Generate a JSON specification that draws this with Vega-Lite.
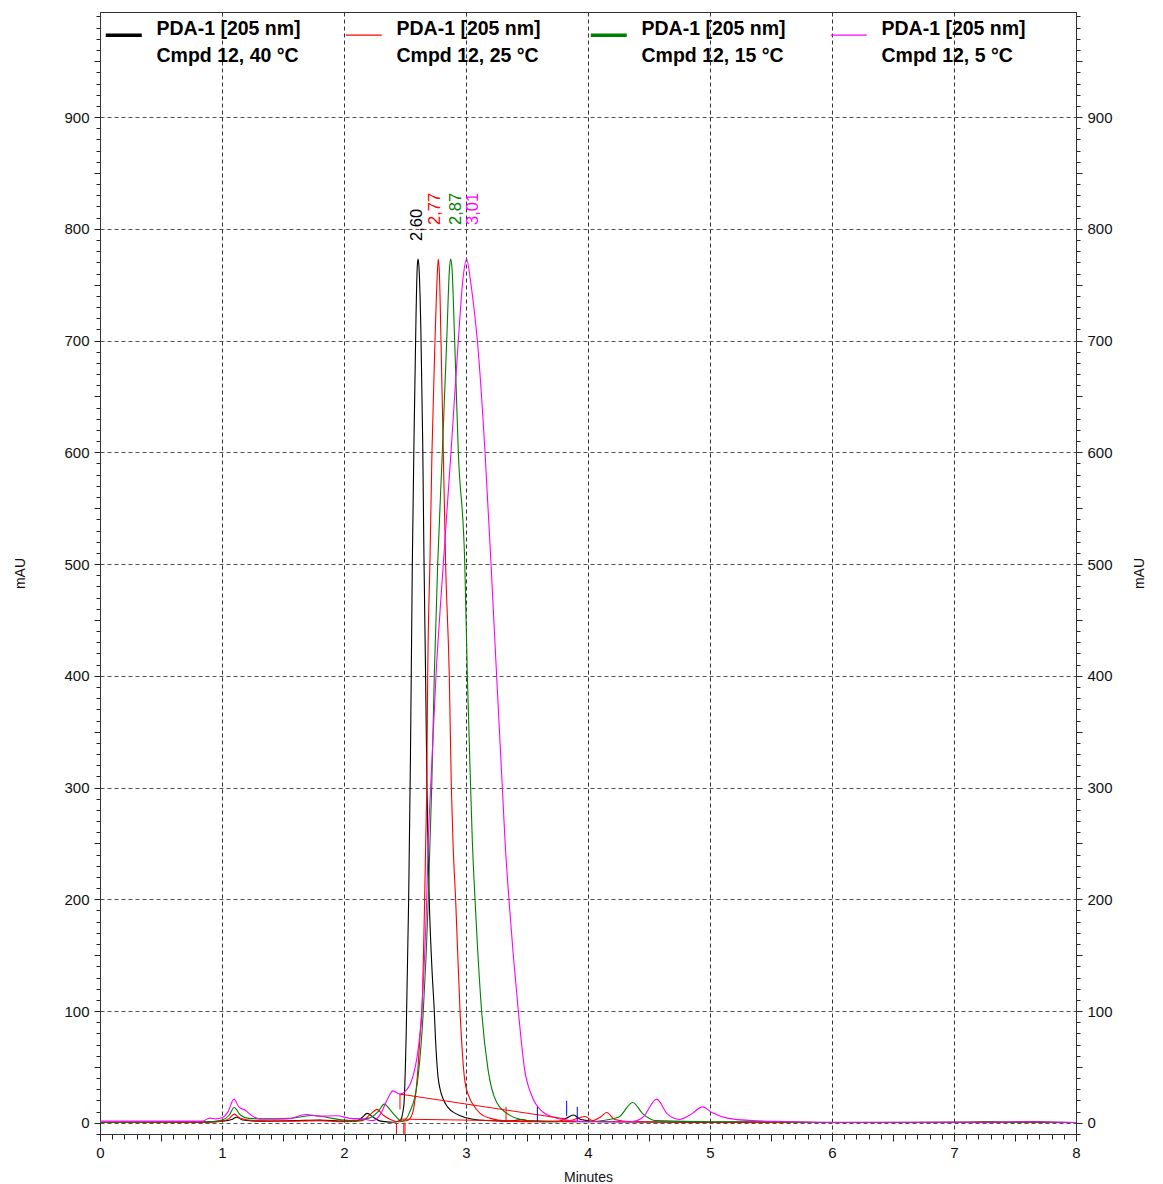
{
  "$schema": "https://vega.github.io/schema/vega-lite/v6.json",
  "width": 976,
  "height": 1122,
  "autosize": {"type": "none"},
  "padding": {"left": 100, "top": 12, "right": 87, "bottom": 50},
  "background": "white",
  "config": {
    "view": {"stroke": "#333333", "strokeWidth": 1},
    "font": "Liberation Sans",
    "axis": {
      "domainColor": "#333333",
      "tickColor": "#222222",
      "labelColor": "#111111",
      "titleColor": "#111111",
      "labelFont": "Liberation Sans",
      "titleFont": "Liberation Sans",
      "labelFontSize": 15,
      "titleFontSize": 14,
      "titleFontWeight": "normal",
      "labelOverlap": false,
      "labelFlush": false,
      "gridColor": "#333333",
      "gridDash": [4, 3],
      "gridWidth": 1
    }
  },
  "datasets": {
    "traces": [
      {"s":"Cmpd 12, 40 °C","t":0,"v":0.5},{"s":"Cmpd 12, 40 °C","t":0.8,"v":0.5},{"s":"Cmpd 12, 40 °C","t":1.0,"v":1.5},{"s":"Cmpd 12, 40 °C","t":1.08,"v":3},{"s":"Cmpd 12, 40 °C","t":1.12,"v":5},{"s":"Cmpd 12, 40 °C","t":1.17,"v":2.5},{"s":"Cmpd 12, 40 °C","t":1.3,"v":1.5},{"s":"Cmpd 12, 40 °C","t":1.6,"v":2},{"s":"Cmpd 12, 40 °C","t":1.8,"v":2.5},{"s":"Cmpd 12, 40 °C","t":2.0,"v":1.5},{"s":"Cmpd 12, 40 °C","t":2.1,"v":1.5},{"s":"Cmpd 12, 40 °C","t":2.15,"v":5},{"s":"Cmpd 12, 40 °C","t":2.19,"v":8.5},{"s":"Cmpd 12, 40 °C","t":2.24,"v":5},{"s":"Cmpd 12, 40 °C","t":2.3,"v":1.5},{"s":"Cmpd 12, 40 °C","t":2.4,"v":0.5},{"s":"Cmpd 12, 40 °C","t":2.46,"v":2},{"s":"Cmpd 12, 40 °C","t":2.49,"v":15},{"s":"Cmpd 12, 40 °C","t":2.51,"v":80},{"s":"Cmpd 12, 40 °C","t":2.53,"v":200},{"s":"Cmpd 12, 40 °C","t":2.545,"v":330},{"s":"Cmpd 12, 40 °C","t":2.56,"v":500},{"s":"Cmpd 12, 40 °C","t":2.575,"v":620},{"s":"Cmpd 12, 40 °C","t":2.59,"v":720},{"s":"Cmpd 12, 40 °C","t":2.6,"v":765},{"s":"Cmpd 12, 40 °C","t":2.607,"v":773},{"s":"Cmpd 12, 40 °C","t":2.615,"v":765},{"s":"Cmpd 12, 40 °C","t":2.63,"v":710},{"s":"Cmpd 12, 40 °C","t":2.645,"v":610},{"s":"Cmpd 12, 40 °C","t":2.655,"v":510},{"s":"Cmpd 12, 40 °C","t":2.67,"v":390},{"s":"Cmpd 12, 40 °C","t":2.68,"v":300},{"s":"Cmpd 12, 40 °C","t":2.69,"v":240},{"s":"Cmpd 12, 40 °C","t":2.7,"v":195},{"s":"Cmpd 12, 40 °C","t":2.72,"v":140},{"s":"Cmpd 12, 40 °C","t":2.74,"v":100},{"s":"Cmpd 12, 40 °C","t":2.75,"v":75},{"s":"Cmpd 12, 40 °C","t":2.77,"v":42},{"s":"Cmpd 12, 40 °C","t":2.79,"v":29},{"s":"Cmpd 12, 40 °C","t":2.81,"v":22},{"s":"Cmpd 12, 40 °C","t":2.85,"v":14},{"s":"Cmpd 12, 40 °C","t":2.92,"v":8},{"s":"Cmpd 12, 40 °C","t":3.0,"v":4.5},{"s":"Cmpd 12, 40 °C","t":3.1,"v":2.5},{"s":"Cmpd 12, 40 °C","t":3.3,"v":1.5},{"s":"Cmpd 12, 40 °C","t":3.4,"v":2},{"s":"Cmpd 12, 40 °C","t":3.45,"v":3},{"s":"Cmpd 12, 40 °C","t":3.52,"v":1.5},{"s":"Cmpd 12, 40 °C","t":3.75,"v":1},{"s":"Cmpd 12, 40 °C","t":3.82,"v":4},{"s":"Cmpd 12, 40 °C","t":3.88,"v":7},{"s":"Cmpd 12, 40 °C","t":3.94,"v":3},{"s":"Cmpd 12, 40 °C","t":4.1,"v":1},{"s":"Cmpd 12, 40 °C","t":5.0,"v":0.5},{"s":"Cmpd 12, 40 °C","t":6.0,"v":0.3},{"s":"Cmpd 12, 40 °C","t":7.5,"v":0.5},{"s":"Cmpd 12, 40 °C","t":7.65,"v":1},{"s":"Cmpd 12, 40 °C","t":7.8,"v":0.5},{"s":"Cmpd 12, 40 °C","t":8,"v":0.3},

      {"s":"Cmpd 12, 25 °C","t":0,"v":0.3},{"s":"Cmpd 12, 25 °C","t":0.9,"v":0.5},{"s":"Cmpd 12, 25 °C","t":1.0,"v":1.5},{"s":"Cmpd 12, 25 °C","t":1.06,"v":4},{"s":"Cmpd 12, 25 °C","t":1.1,"v":7.8},{"s":"Cmpd 12, 25 °C","t":1.15,"v":4},{"s":"Cmpd 12, 25 °C","t":1.25,"v":2},{"s":"Cmpd 12, 25 °C","t":1.5,"v":1.5},{"s":"Cmpd 12, 25 °C","t":1.8,"v":2},{"s":"Cmpd 12, 25 °C","t":2.0,"v":1},{"s":"Cmpd 12, 25 °C","t":2.15,"v":2},{"s":"Cmpd 12, 25 °C","t":2.22,"v":8},{"s":"Cmpd 12, 25 °C","t":2.27,"v":12},{"s":"Cmpd 12, 25 °C","t":2.32,"v":7},{"s":"Cmpd 12, 25 °C","t":2.38,"v":3},{"s":"Cmpd 12, 25 °C","t":2.45,"v":1},{"s":"Cmpd 12, 25 °C","t":2.52,"v":2},{"s":"Cmpd 12, 25 °C","t":2.56,"v":8},{"s":"Cmpd 12, 25 °C","t":2.6,"v":40},{"s":"Cmpd 12, 25 °C","t":2.625,"v":80},{"s":"Cmpd 12, 25 °C","t":2.639,"v":100},{"s":"Cmpd 12, 25 °C","t":2.661,"v":200},{"s":"Cmpd 12, 25 °C","t":2.67,"v":252},{"s":"Cmpd 12, 25 °C","t":2.678,"v":300},{"s":"Cmpd 12, 25 °C","t":2.686,"v":400},{"s":"Cmpd 12, 25 °C","t":2.705,"v":505},{"s":"Cmpd 12, 25 °C","t":2.721,"v":600},{"s":"Cmpd 12, 25 °C","t":2.746,"v":700},{"s":"Cmpd 12, 25 °C","t":2.765,"v":760},{"s":"Cmpd 12, 25 °C","t":2.773,"v":773},{"s":"Cmpd 12, 25 °C","t":2.782,"v":760},{"s":"Cmpd 12, 25 °C","t":2.795,"v":700},{"s":"Cmpd 12, 25 °C","t":2.814,"v":600},{"s":"Cmpd 12, 25 °C","t":2.833,"v":500},{"s":"Cmpd 12, 25 °C","t":2.863,"v":400},{"s":"Cmpd 12, 25 °C","t":2.88,"v":300},{"s":"Cmpd 12, 25 °C","t":2.893,"v":252},{"s":"Cmpd 12, 25 °C","t":2.915,"v":200},{"s":"Cmpd 12, 25 °C","t":2.951,"v":100},{"s":"Cmpd 12, 25 °C","t":2.99,"v":38},{"s":"Cmpd 12, 25 °C","t":3.03,"v":22},{"s":"Cmpd 12, 25 °C","t":3.06,"v":16},{"s":"Cmpd 12, 25 °C","t":3.12,"v":8},{"s":"Cmpd 12, 25 °C","t":3.2,"v":4},{"s":"Cmpd 12, 25 °C","t":3.33,"v":1.6},{"s":"Cmpd 12, 25 °C","t":3.6,"v":1},{"s":"Cmpd 12, 25 °C","t":3.85,"v":2},{"s":"Cmpd 12, 25 °C","t":3.975,"v":5.6},{"s":"Cmpd 12, 25 °C","t":4.04,"v":2},{"s":"Cmpd 12, 25 °C","t":4.1,"v":5},{"s":"Cmpd 12, 25 °C","t":4.153,"v":9.2},{"s":"Cmpd 12, 25 °C","t":4.22,"v":3},{"s":"Cmpd 12, 25 °C","t":4.35,"v":1},{"s":"Cmpd 12, 25 °C","t":5.0,"v":0.5},{"s":"Cmpd 12, 25 °C","t":6.0,"v":0.3},{"s":"Cmpd 12, 25 °C","t":7.1,"v":0.4},{"s":"Cmpd 12, 25 °C","t":7.25,"v":0.9},{"s":"Cmpd 12, 25 °C","t":7.4,"v":0.4},{"s":"Cmpd 12, 25 °C","t":8,"v":0.3},

      {"s":"Cmpd 12, 15 °C","t":0,"v":0.5},{"s":"Cmpd 12, 15 °C","t":0.9,"v":1},{"s":"Cmpd 12, 15 °C","t":1.0,"v":2.5},{"s":"Cmpd 12, 15 °C","t":1.06,"v":7},{"s":"Cmpd 12, 15 °C","t":1.1,"v":13.7},{"s":"Cmpd 12, 15 °C","t":1.15,"v":7},{"s":"Cmpd 12, 15 °C","t":1.22,"v":4},{"s":"Cmpd 12, 15 °C","t":1.35,"v":3.5},{"s":"Cmpd 12, 15 °C","t":1.55,"v":4},{"s":"Cmpd 12, 15 °C","t":1.75,"v":6.6},{"s":"Cmpd 12, 15 °C","t":1.9,"v":4},{"s":"Cmpd 12, 15 °C","t":2.05,"v":2},{"s":"Cmpd 12, 15 °C","t":2.2,"v":4},{"s":"Cmpd 12, 15 °C","t":2.28,"v":10},{"s":"Cmpd 12, 15 °C","t":2.33,"v":16.7},{"s":"Cmpd 12, 15 °C","t":2.39,"v":10},{"s":"Cmpd 12, 15 °C","t":2.45,"v":3},{"s":"Cmpd 12, 15 °C","t":2.48,"v":1.5},{"s":"Cmpd 12, 15 °C","t":2.54,"v":10},{"s":"Cmpd 12, 15 °C","t":2.6,"v":35},{"s":"Cmpd 12, 15 °C","t":2.65,"v":100},{"s":"Cmpd 12, 15 °C","t":2.691,"v":200},{"s":"Cmpd 12, 15 °C","t":2.705,"v":252},{"s":"Cmpd 12, 15 °C","t":2.719,"v":300},{"s":"Cmpd 12, 15 °C","t":2.74,"v":400},{"s":"Cmpd 12, 15 °C","t":2.768,"v":500},{"s":"Cmpd 12, 15 °C","t":2.806,"v":600},{"s":"Cmpd 12, 15 °C","t":2.842,"v":700},{"s":"Cmpd 12, 15 °C","t":2.865,"v":765},{"s":"Cmpd 12, 15 °C","t":2.874,"v":773},{"s":"Cmpd 12, 15 °C","t":2.885,"v":765},{"s":"Cmpd 12, 15 °C","t":2.907,"v":700},{"s":"Cmpd 12, 15 °C","t":2.937,"v":600},{"s":"Cmpd 12, 15 °C","t":2.99,"v":500},{"s":"Cmpd 12, 15 °C","t":3.011,"v":400},{"s":"Cmpd 12, 15 °C","t":3.038,"v":300},{"s":"Cmpd 12, 15 °C","t":3.052,"v":252},{"s":"Cmpd 12, 15 °C","t":3.074,"v":200},{"s":"Cmpd 12, 15 °C","t":3.128,"v":100},{"s":"Cmpd 12, 15 °C","t":3.18,"v":48},{"s":"Cmpd 12, 15 °C","t":3.25,"v":18.6},{"s":"Cmpd 12, 15 °C","t":3.36,"v":6.7},{"s":"Cmpd 12, 15 °C","t":3.45,"v":3},{"s":"Cmpd 12, 15 °C","t":3.6,"v":1.5},{"s":"Cmpd 12, 15 °C","t":4.0,"v":1},{"s":"Cmpd 12, 15 °C","t":4.25,"v":5},{"s":"Cmpd 12, 15 °C","t":4.366,"v":18.2},{"s":"Cmpd 12, 15 °C","t":4.45,"v":8},{"s":"Cmpd 12, 15 °C","t":4.55,"v":2},{"s":"Cmpd 12, 15 °C","t":5.0,"v":1},{"s":"Cmpd 12, 15 °C","t":5.5,"v":1},{"s":"Cmpd 12, 15 °C","t":6.0,"v":0.3},{"s":"Cmpd 12, 15 °C","t":7.15,"v":0.4},{"s":"Cmpd 12, 15 °C","t":7.3,"v":1},{"s":"Cmpd 12, 15 °C","t":7.45,"v":0.4},{"s":"Cmpd 12, 15 °C","t":7.6,"v":0.8},{"s":"Cmpd 12, 15 °C","t":8,"v":0.3},

      {"s":"Cmpd 12, 5 °C","t":0,"v":1.5},{"s":"Cmpd 12, 5 °C","t":0.84,"v":1.5},{"s":"Cmpd 12, 5 °C","t":0.9,"v":4.2},{"s":"Cmpd 12, 5 °C","t":0.95,"v":3.5},{"s":"Cmpd 12, 5 °C","t":1.0,"v":4.5},{"s":"Cmpd 12, 5 °C","t":1.05,"v":10},{"s":"Cmpd 12, 5 °C","t":1.098,"v":21.2},{"s":"Cmpd 12, 5 °C","t":1.14,"v":14},{"s":"Cmpd 12, 5 °C","t":1.19,"v":11.3},{"s":"Cmpd 12, 5 °C","t":1.25,"v":6},{"s":"Cmpd 12, 5 °C","t":1.31,"v":3.4},{"s":"Cmpd 12, 5 °C","t":1.53,"v":3.5},{"s":"Cmpd 12, 5 °C","t":1.69,"v":7.5},{"s":"Cmpd 12, 5 °C","t":1.8,"v":6},{"s":"Cmpd 12, 5 °C","t":1.94,"v":6.3},{"s":"Cmpd 12, 5 °C","t":2.05,"v":4},{"s":"Cmpd 12, 5 °C","t":2.15,"v":3.5},{"s":"Cmpd 12, 5 °C","t":2.24,"v":2},{"s":"Cmpd 12, 5 °C","t":2.3,"v":8},{"s":"Cmpd 12, 5 °C","t":2.36,"v":22},{"s":"Cmpd 12, 5 °C","t":2.4,"v":28.6},{"s":"Cmpd 12, 5 °C","t":2.46,"v":25.7},{"s":"Cmpd 12, 5 °C","t":2.5,"v":28},{"s":"Cmpd 12, 5 °C","t":2.58,"v":48},{"s":"Cmpd 12, 5 °C","t":2.637,"v":100},{"s":"Cmpd 12, 5 °C","t":2.678,"v":200},{"s":"Cmpd 12, 5 °C","t":2.691,"v":252},{"s":"Cmpd 12, 5 °C","t":2.71,"v":300},{"s":"Cmpd 12, 5 °C","t":2.754,"v":400},{"s":"Cmpd 12, 5 °C","t":2.814,"v":500},{"s":"Cmpd 12, 5 °C","t":2.877,"v":600},{"s":"Cmpd 12, 5 °C","t":2.937,"v":700},{"s":"Cmpd 12, 5 °C","t":2.975,"v":755},{"s":"Cmpd 12, 5 °C","t":3.005,"v":773},{"s":"Cmpd 12, 5 °C","t":3.035,"v":755},{"s":"Cmpd 12, 5 °C","t":3.062,"v":732},{"s":"Cmpd 12, 5 °C","t":3.093,"v":700},{"s":"Cmpd 12, 5 °C","t":3.156,"v":600},{"s":"Cmpd 12, 5 °C","t":3.205,"v":500},{"s":"Cmpd 12, 5 °C","t":3.251,"v":400},{"s":"Cmpd 12, 5 °C","t":3.298,"v":300},{"s":"Cmpd 12, 5 °C","t":3.32,"v":252},{"s":"Cmpd 12, 5 °C","t":3.352,"v":200},{"s":"Cmpd 12, 5 °C","t":3.429,"v":100},{"s":"Cmpd 12, 5 °C","t":3.48,"v":48},{"s":"Cmpd 12, 5 °C","t":3.54,"v":24},{"s":"Cmpd 12, 5 °C","t":3.63,"v":9.7},{"s":"Cmpd 12, 5 °C","t":3.72,"v":5},{"s":"Cmpd 12, 5 °C","t":3.82,"v":2.5},{"s":"Cmpd 12, 5 °C","t":3.9,"v":1.5},{"s":"Cmpd 12, 5 °C","t":4.0,"v":1},{"s":"Cmpd 12, 5 °C","t":4.35,"v":1},{"s":"Cmpd 12, 5 °C","t":4.45,"v":5},{"s":"Cmpd 12, 5 °C","t":4.563,"v":21.2},{"s":"Cmpd 12, 5 °C","t":4.65,"v":8},{"s":"Cmpd 12, 5 °C","t":4.75,"v":3},{"s":"Cmpd 12, 5 °C","t":4.85,"v":8},{"s":"Cmpd 12, 5 °C","t":4.937,"v":14.3},{"s":"Cmpd 12, 5 °C","t":5.02,"v":9},{"s":"Cmpd 12, 5 °C","t":5.15,"v":4},{"s":"Cmpd 12, 5 °C","t":5.35,"v":2},{"s":"Cmpd 12, 5 °C","t":5.6,"v":1.2},{"s":"Cmpd 12, 5 °C","t":6.0,"v":0.5},{"s":"Cmpd 12, 5 °C","t":7.2,"v":0.5},{"s":"Cmpd 12, 5 °C","t":7.6,"v":1},{"s":"Cmpd 12, 5 °C","t":8,"v":0.3}
    ],
    "redMarks": [
      {"t1":2.459,"v1":25.7,"t2":3.825,"v2":3.3},
      {"t1":2.46,"v1":3.3,"t2":3.9,"v2":1},
      {"t1":2.459,"v1":25.7,"t2":2.459,"v2":12},
      {"t1":3.328,"v1":14.3,"t2":3.328,"v2":1.8},
      {"t1":2.43,"v1":0,"t2":2.43,"v2":-10},
      {"t1":2.49,"v1":0,"t2":2.49,"v2":-10},
      {"t1":2.5,"v1":0,"t2":2.5,"v2":-10}
    ],
    "blueMarks": [
      {"t1":3.585,"v1":14.3,"t2":3.585,"v2":1.2},
      {"t1":3.825,"v1":19.7,"t2":3.825,"v2":6},
      {"t1":3.912,"v1":14.3,"t2":3.912,"v2":1.8}
    ],
    "peaks": [
      {"s":"Cmpd 12, 40 °C","t":2.60,"v":773,"label":"2,60"},
      {"s":"Cmpd 12, 25 °C","t":2.77,"v":773,"label":"2,77"},
      {"s":"Cmpd 12, 15 °C","t":2.87,"v":773,"label":"2,87"},
      {"s":"Cmpd 12, 5 °C","t":3.01,"v":773,"label":"3,01"}
    ]
  },
  "layer": [
    {
      "data": {"name": "traces"},
      "mark": {"type": "line", "strokeWidth": 1.1, "interpolate": "monotone", "clip": true},
      "encoding": {
        "x": {
          "field": "t", "type": "quantitative",
          "scale": {"domain": [0, 8], "nice": false, "zero": false},
          "axis": {
            "title": "Minutes",
            "tickCount": 80,
            "grid": true,
            "gridOpacity": {"condition": {"test": "datum.value % 1 === 0", "value": 1}, "value": 0},
            "labelExpr": "datum.value % 1 === 0 ? format(datum.value, 'd') : ''",
            "tickSize": {"condition": {"test": "datum.value % 0.5 === 0", "value": 7}, "value": 5},
            "labelPadding": 4,
            "titlePadding": 10
          }
        },
        "y": {
          "field": "v", "type": "quantitative",
          "scale": {"domain": [-10, 994], "nice": false, "zero": false},
          "axis": {
            "orient": "left",
            "title": "mAU",
            "tickCount": 100,
            "grid": true,
            "gridColor": "#555555",
            "gridOpacity": {"condition": {"test": "datum.value % 100 === 0", "value": 1}, "value": 0},
            "labelExpr": "datum.value % 100 === 0 ? format(datum.value, 'd') : ''",
            "tickSize": {"condition": {"test": "datum.value % 50 === 0", "value": 6}, "value": 4},
            "labelPadding": 5,
            "titlePadding": 36
          }
        },
        "color": {
          "field": "s", "type": "nominal",
          "scale": {
            "domain": ["Cmpd 12, 40 °C", "Cmpd 12, 25 °C", "Cmpd 12, 15 °C", "Cmpd 12, 5 °C"],
            "range": ["#000000", "#FF0000", "#008000", "#FF00FF"]
          },
          "legend": {
            "orient": "none",
            "legendX": 14,
            "legendY": 13,
            "direction": "horizontal",
            "columns": 4,
            "title": null,
            "symbolType": "stroke",
            "symbolSize": 1296,
            "symbolStrokeWidth": 1.5,
            "labelFont": "Liberation Sans",
            "labelFontSize": 19.5,
            "labelFontWeight": "bold",
            "labelColor": "#000000",
            "labelLimit": 400,
            "labelOffset": 23,
            "labelBaseline": "alphabetic",
            "columnPadding": 42,
            "labelExpr": "['PDA-1 [205 nm]', datum.label]",
            "encode": {
              "labels": {"update": {"lineHeight": {"value": 27}}},
              "symbols": {"update": {"strokeWidth": {"signal": "datum.value === 'Cmpd 12, 40 °C' || datum.value === 'Cmpd 12, 15 °C' ? 3.5 : 1.2"}}}
            }
          }
        }
      }
    },
    {
      "data": {"name": "redMarks"},
      "mark": {"type": "rule", "color": "#FF0000", "strokeWidth": 1},
      "encoding": {
        "x": {"field": "t1", "type": "quantitative"},
        "x2": {"field": "t2"},
        "y": {"field": "v1", "type": "quantitative", "axis": null},
        "y2": {"field": "v2"}
      }
    },
    {
      "data": {"name": "blueMarks"},
      "mark": {"type": "rule", "color": "#0000FF", "strokeWidth": 1},
      "encoding": {
        "x": {"field": "t1", "type": "quantitative"},
        "x2": {"field": "t2"},
        "y": {"field": "v1", "type": "quantitative", "axis": null},
        "y2": {"field": "v2"}
      }
    },
    {
      "data": {"name": "peaks"},
      "transform": [{"filter": "datum.label === '2,60'"}],
      "mark": {"type": "text", "angle": 270, "align": "left", "baseline": "middle", "dx": 18, "fontSize": 16.5, "font": "Liberation Sans"},
      "encoding": {
        "x": {"field": "t", "type": "quantitative"},
        "y": {"field": "v", "type": "quantitative", "axis": null},
        "text": {"field": "label"},
        "color": {"field": "s", "type": "nominal", "legend": null}
      }
    },
    {
      "data": {"name": "peaks"},
      "transform": [{"filter": "datum.label === '2,77'"}],
      "mark": {"type": "text", "angle": 270, "align": "left", "baseline": "middle", "dx": 34, "dy": -3, "fontSize": 16.5, "font": "Liberation Sans"},
      "encoding": {
        "x": {"field": "t", "type": "quantitative"},
        "y": {"field": "v", "type": "quantitative", "axis": null},
        "text": {"field": "label"},
        "color": {"field": "s", "type": "nominal", "legend": null}
      }
    },
    {
      "data": {"name": "peaks"},
      "transform": [{"filter": "datum.label === '2,87' || datum.label === '3,01'"}],
      "mark": {"type": "text", "angle": 270, "align": "left", "baseline": "middle", "dx": 34, "dy": 6, "fontSize": 16.5, "font": "Liberation Sans"},
      "encoding": {
        "x": {"field": "t", "type": "quantitative"},
        "y": {
          "field": "v", "type": "quantitative",
          "axis": {
            "orient": "right",
            "title": "mAU",
            "titleAngle": 270,
            "tickCount": 100,
            "grid": false,
            "labelExpr": "datum.value % 100 === 0 ? format(datum.value, 'd') : ''",
            "tickSize": {"condition": {"test": "datum.value % 50 === 0", "value": 6}, "value": 4},
            "labelPadding": 5,
            "titlePadding": 34
          }
        },
        "text": {"field": "label"},
        "color": {"field": "s", "type": "nominal", "legend": null}
      }
    }
  ],
  "resolve": {"axis": {"y": "independent"}}
}
